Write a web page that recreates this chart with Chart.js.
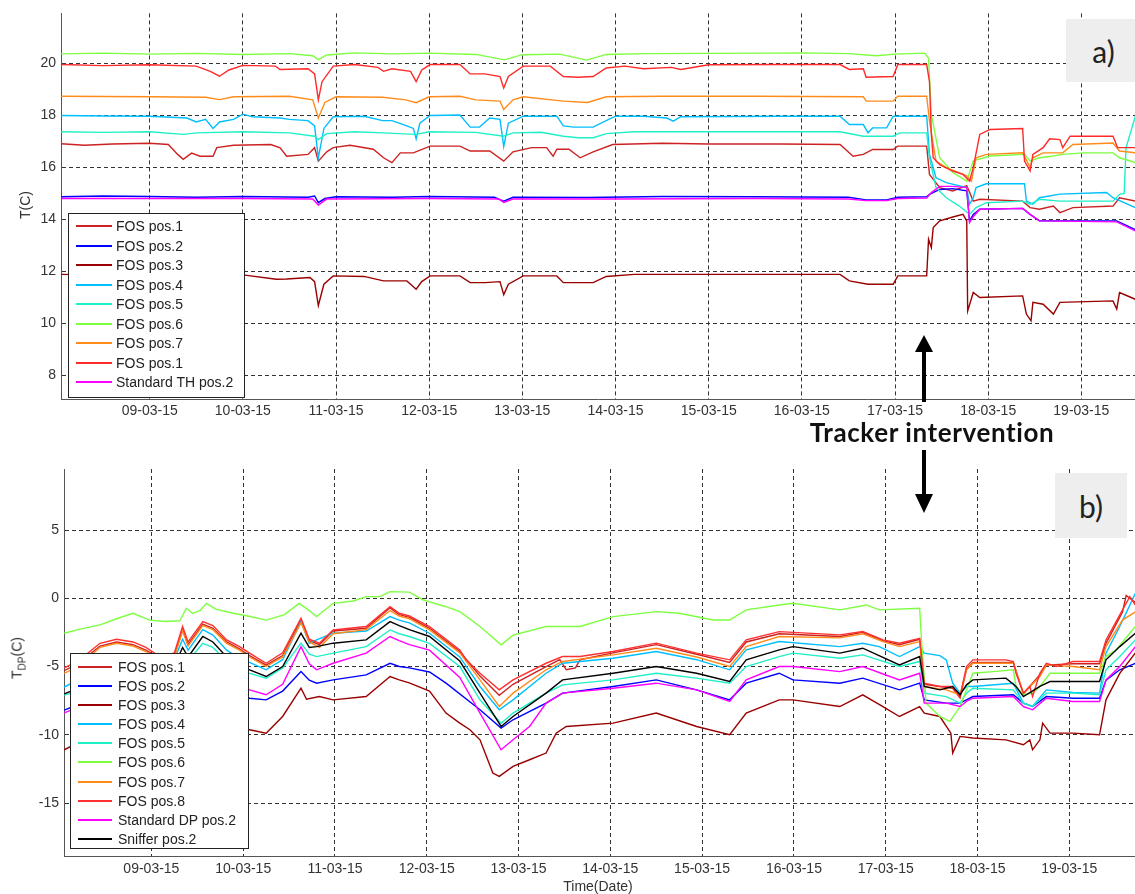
<!DOCTYPE html>
<html>
<head>
<meta charset="utf-8">
<script src="https://cdn.jsdelivr.net/npm/chart.js@4.4.0/dist/chart.umd.min.js"></script>
<style>
  body { margin: 0; width: 1135px; height: 894px; overflow: hidden; background: #fff; position: relative;
         font-family: 'Liberation Sans', Arial, sans-serif; }
  canvas { position: absolute; left: 0; }
  #graficoA { top: 0; }
  #graficoB { top: 440px; }
  .leyenda { position: absolute; background: #fff; border: 1px solid #222; box-sizing: border-box; }
  .titulo { position: absolute; font-size: 14px; color: #333; white-space: nowrap; }
  .rot { transform: translate(-50%, -50%) rotate(-90deg); }
  .panel { position: absolute; background: #eeeeee; font-family: Lato, 'Open Sans', sans-serif; font-size: 30px;
           color: #222; display: flex; align-items: center; justify-content: center; }
  #tracker { position: absolute; left: 932px; top: 432px; transform: translate(-50%, -50%); letter-spacing: 0.6px;
             font-family: Lato, 'Open Sans', sans-serif; font-weight: bold; font-size: 26px; color: #111; white-space: nowrap; }
</style>
</head>
<body>
<canvas id="graficoA" width="1135" height="425"></canvas>
<canvas id="graficoB" width="1135" height="454"></canvas>

<div class="titulo rot" style="left:25px; top:205px;">T(C)</div>
<div class="titulo rot" style="left:18px; top:658px;">T<sub style="font-size:10px">DP</sub>(C)</div>
<div class="titulo" style="left:598px; top:886px; transform:translate(-50%,-50%);">Time(Date)</div>

<div class="panel" style="left:1066px; top:19px; width:75px; height:63px;">a)</div>
<div class="panel" style="left:1055px; top:473px; width:72px; height:65px;">b)</div>
<div id="tracker">Tracker intervention</div>

<svg style="position:absolute; left:0; top:0;" width="1135" height="894">
  <rect x="922" y="350" width="4" height="52" fill="#000"/>
  <polygon points="924,335 915,352 933,352" fill="#000"/>
  <rect x="922" y="450" width="4" height="46" fill="#000"/>
  <polygon points="924,513 915,494 933,494" fill="#000"/>
</svg>

<script>
// ejes
const dias = [9, 10, 11, 12, 13, 14, 15, 16, 17, 18, 19];
const etiquetasDias = ['09-03-15', '10-03-15', '11-03-15', '12-03-15', '13-03-15', '14-03-15',
  '15-03-15', '16-03-15', '17-03-15', '18-03-15', '19-03-15'];
const ticksA = [8, 10, 12, 14, 16, 18, 20];
const ticksB = [-15, -10, -5, 0, 5];

// ---- panel a) : temperatura ----
const nombresA = ['FOS pos.1', 'FOS pos.2', 'FOS pos.3', 'FOS pos.4', 'FOS pos.5', 'FOS pos.6', 'FOS pos.7', 'FOS pos.1', 'Standard TH pos.2'];
const coloresA = ['#cc2222', '#0000ff', '#990000', '#00bfff', '#1ff0c8', '#7dff3f', '#ff8c1a', '#ff2a2a', '#ff00ff'];

const fos1A = [[8.05,16.91],[8.3,16.85],[8.6,16.9],[9.0,16.93],[9.2,16.88],[9.3,16.5],[9.36,16.31],[9.45,16.55],[9.54,16.43],[9.68,16.43],[9.72,16.76],[9.9,16.85],[10.3,16.88],[10.4,16.75],[10.47,16.43],[10.7,16.5],[10.77,16.76],[10.81,16.24],[10.9,16.6],[10.97,16.76],[11.15,16.85],[11.4,16.7],[11.51,16.37],[11.6,16.18],[11.69,16.56],[11.83,16.56],[12.01,16.82],[12.33,16.82],[12.44,16.63],[12.65,16.63],[12.8,16.24],[12.9,16.6],[13.1,16.76],[13.26,16.76],[13.33,16.43],[13.37,16.7],[13.5,16.7],[13.62,16.37],[13.76,16.6],[13.97,16.88],[14.5,16.93],[15.0,16.9],[15.76,16.9],[16.41,16.88],[16.55,16.43],[16.66,16.5],[16.76,16.69],[16.98,16.69],[17.03,16.82],[17.34,16.82],[17.37,15.73],[17.48,15.22],[17.62,15.09],[17.77,15.3],[17.84,14.7],[17.91,14.77],[18.37,14.7],[18.45,14.45],[18.55,14.39],[18.7,14.51],[18.77,14.26],[18.91,14.45],[19.34,14.51],[19.41,14.83],[19.58,14.7]];
const fos2A = [[8.05,14.87],[8.5,14.9],[9.0,14.88],[9.5,14.85],[10.0,14.88],[10.7,14.85],[10.77,14.9],[10.81,14.64],[10.88,14.8],[11.0,14.87],[11.6,14.85],[12.0,14.88],[12.7,14.85],[12.8,14.7],[12.9,14.85],[13.7,14.84],[14.5,14.88],[15.5,14.87],[16.5,14.85],[16.69,14.75],[16.91,14.75],[17.03,14.85],[17.34,14.87],[17.37,14.96],[17.48,15.15],[17.62,15.18],[17.77,15.1],[17.8,13.94],[17.84,14.19],[17.91,14.39],[18.37,14.42],[18.45,14.19],[18.55,13.94],[19.38,13.94],[19.58,13.6]];
const fos3A = [[8.05,11.88],[8.5,11.85],[9.0,11.88],[9.5,11.85],[10.0,11.86],[10.36,11.69],[10.47,11.7],[10.72,11.76],[10.77,11.6],[10.81,10.68],[10.87,11.5],[10.97,11.82],[11.3,11.8],[11.51,11.63],[11.76,11.63],[11.86,11.31],[11.92,11.6],[12.01,11.82],[12.33,11.82],[12.44,11.56],[12.6,11.56],[12.76,11.6],[12.8,11.1],[12.85,11.5],[13.01,11.82],[13.37,11.82],[13.44,11.56],[13.76,11.56],[13.9,11.8],[14.2,11.88],[15.0,11.88],[15.76,11.88],[16.41,11.88],[16.51,11.63],[16.71,11.5],[16.98,11.5],[17.03,11.82],[17.34,11.82],[17.36,13.23],[17.39,12.91],[17.41,13.68],[17.48,13.94],[17.62,14.09],[17.73,14.19],[17.77,13.94],[17.78,10.47],[17.84,11.18],[17.91,10.99],[18.37,11.05],[18.41,10.35],[18.46,10.09],[18.48,10.8],[18.59,10.73],[18.7,10.35],[18.77,10.8],[19.34,10.86],[19.38,10.54],[19.41,11.18],[19.58,10.92]];
const fos4A = [[8.05,18.0],[8.5,17.98],[9.0,17.97],[9.4,17.9],[9.5,17.75],[9.6,17.85],[9.68,17.5],[9.75,17.75],[9.9,17.85],[10.0,18.05],[10.1,17.95],[10.4,17.9],[10.5,17.85],[10.7,17.8],[10.77,17.6],[10.81,16.37],[10.87,17.5],[10.97,17.95],[11.3,17.97],[11.5,17.8],[11.6,17.8],[11.76,17.6],[11.83,17.5],[11.86,17.1],[11.9,17.7],[12.01,18.0],[12.33,18.02],[12.44,17.55],[12.54,17.55],[12.65,17.9],[12.76,17.85],[12.8,16.8],[12.85,17.7],[13.01,17.97],[13.37,17.97],[13.44,17.6],[13.55,17.55],[13.76,17.55],[13.9,17.8],[14.0,17.97],[14.3,17.97],[14.55,17.9],[14.62,17.78],[14.7,17.95],[15.76,17.97],[16.41,17.97],[16.51,17.65],[16.66,17.65],[16.71,17.33],[16.76,17.52],[16.91,17.52],[16.98,17.97],[17.34,17.97],[17.37,16.5],[17.44,15.6],[17.55,15.41],[17.77,15.22],[17.8,14.58],[17.84,14.83],[17.87,15.22],[17.98,15.37],[18.39,15.37],[18.41,14.7],[18.48,14.58],[18.55,14.83],[18.77,14.97],[19.27,15.03],[19.34,14.83],[19.58,14.45]];
const fos5A = [[8.05,17.37],[8.5,17.35],[9.0,17.37],[9.36,17.27],[9.5,17.33],[10.0,17.37],[10.5,17.33],[10.77,17.2],[10.81,17.07],[10.9,17.3],[11.2,17.37],[11.5,17.33],[11.86,17.27],[12.0,17.37],[12.5,17.35],[12.8,17.2],[12.9,17.33],[13.2,17.35],[13.44,17.2],[13.6,17.14],[13.76,17.14],[13.9,17.3],[14.2,17.37],[15.0,17.37],[15.76,17.37],[16.41,17.37],[16.66,17.2],[16.98,17.2],[17.05,17.33],[17.34,17.33],[17.37,16.37],[17.44,15.22],[17.55,14.83],[17.69,14.51],[17.8,14.19],[17.87,14.45],[17.98,14.64],[18.37,14.7],[18.45,14.58],[18.55,14.77],[18.77,14.7],[19.34,14.7],[19.41,14.96],[19.46,15.0],[19.48,16.76],[19.58,17.97]];
const fos6A = [[8.05,20.37],[8.5,20.4],[9.0,20.36],[9.5,20.39],[10.0,20.35],[10.5,20.38],[10.75,20.3],[10.81,20.15],[10.9,20.33],[11.2,20.41],[11.6,20.37],[12.0,20.4],[12.5,20.35],[12.81,20.14],[13.0,20.34],[13.4,20.36],[13.69,20.13],[13.9,20.35],[14.3,20.38],[15.0,20.39],[15.7,20.4],[16.0,20.41],[16.5,20.38],[16.8,20.3],[17.0,20.36],[17.32,20.4],[17.36,20.2],[17.39,18.04],[17.48,16.37],[17.62,15.8],[17.77,15.47],[17.84,16.25],[18.02,16.44],[18.39,16.5],[18.45,16.25],[18.55,16.37],[18.7,16.44],[18.8,16.5],[19.02,16.56],[19.34,16.56],[19.41,16.37],[19.58,16.18]];
const fos7A = [[8.05,18.74],[9.0,18.72],[9.6,18.7],[9.75,18.61],[9.9,18.72],[10.5,18.74],[10.75,18.6],[10.81,17.9],[10.88,18.5],[11.0,18.72],[11.5,18.7],[11.75,18.6],[11.86,18.49],[12.0,18.72],[12.33,18.74],[12.5,18.6],[12.76,18.55],[12.8,18.23],[12.9,18.6],[13.01,18.72],[13.44,18.55],[13.7,18.5],[13.9,18.72],[14.5,18.74],[15.5,18.74],[16.66,18.72],[16.69,18.55],[16.98,18.55],[17.03,18.74],[17.34,18.74],[17.37,17.78],[17.44,16.24],[17.55,15.99],[17.77,15.67],[17.82,15.47],[17.87,16.37],[17.98,16.5],[18.37,16.56],[18.45,16.0],[18.48,16.37],[18.59,16.56],[18.8,16.56],[18.91,16.88],[19.34,16.94],[19.41,16.63],[19.58,16.56]];
const fos8A = [[8.05,19.96],[8.5,19.92],[9.0,19.95],[9.5,19.9],[9.65,19.7],[9.75,19.51],[9.85,19.75],[10.0,19.93],[10.35,19.9],[10.4,19.77],[10.7,19.8],[10.77,19.6],[10.81,18.6],[10.85,19.3],[10.97,19.9],[11.2,19.96],[11.45,19.85],[11.51,19.7],[11.6,19.8],[11.8,19.7],[11.86,19.3],[11.92,19.75],[12.01,19.96],[12.33,19.96],[12.44,19.6],[12.6,19.6],[12.76,19.5],[12.8,19.06],[12.85,19.5],[13.01,19.9],[13.3,19.9],[13.44,19.5],[13.6,19.47],[13.76,19.5],[13.9,19.83],[14.1,19.9],[14.3,19.8],[14.6,19.85],[14.7,19.77],[15.0,19.95],[15.76,19.96],[16.41,19.96],[16.51,19.77],[16.66,19.8],[16.69,19.47],[16.98,19.5],[17.03,19.96],[17.34,19.96],[17.37,19.3],[17.39,17.27],[17.41,16.37],[17.48,16.1],[17.62,15.86],[17.73,15.73],[17.8,15.47],[17.84,16.0],[17.91,17.27],[18.02,17.46],[18.37,17.5],[18.39,16.24],[18.45,15.86],[18.48,16.5],[18.59,16.76],[18.66,17.1],[18.77,17.07],[18.8,16.76],[18.88,17.2],[19.34,17.2],[19.39,16.76],[19.58,16.76]];
const estandarA = [[8.05,14.8],[9.0,14.8],[10.0,14.8],[10.75,14.78],[10.81,14.55],[10.9,14.78],[12.0,14.8],[12.75,14.78],[12.8,14.65],[12.9,14.78],[14.0,14.78],[15.5,14.8],[16.5,14.78],[16.69,14.72],[16.91,14.72],[17.03,14.8],[17.34,14.82],[17.39,15.03],[17.48,15.27],[17.62,15.27],[17.77,15.22],[17.8,13.87],[17.84,14.1],[17.91,14.39],[18.37,14.42],[18.45,14.19],[18.55,13.94],[19.38,13.9],[19.58,13.55]];

// ---- panel b) : punto de rocio ----
const nombresB = ['FOS pos.1', 'FOS pos.2', 'FOS pos.3', 'FOS pos.4', 'FOS pos.5', 'FOS pos.6', 'FOS pos.7', 'FOS pos.8', 'Standard DP pos.2', 'Sniffer pos.2'];
const coloresB = ['#cc2222', '#0000ff', '#990000', '#00bfff', '#1ff0c8', '#7dff3f', '#ff8c1a', '#ff3030', '#ff00ff', '#000000'];

const fos1B = [[8.05,-5.3],[8.2,-4.8],[8.44,-3.5],[8.62,-3.2],[8.8,-3.4],[8.94,-3.8],[9.1,-4.4],[9.25,-4.2],[9.34,-2.3],[9.4,-3.4],[9.56,-1.9],[9.67,-2.2],[9.82,-3.2],[9.96,-3.7],[10.07,-4.2],[10.25,-4.9],[10.43,-4.2],[10.63,-1.6],[10.72,-3.1],[10.83,-3.4],[10.98,-2.4],[11.34,-2.2],[11.6,-0.7],[11.7,-1.2],[11.81,-1.4],[12.03,-2.2],[12.36,-3.9],[12.58,-5.7],[12.79,-7.1],[12.94,-6.3],[13.3,-5.0],[13.45,-4.5],[13.52,-5.24],[13.62,-5.1],[13.67,-4.5],[14.03,-4.0],[14.5,-3.4],[14.94,-4.1],[15.3,-4.7],[15.48,-3.2],[15.84,-2.6],[16.5,-2.8],[16.75,-2.5],[16.97,-3.1],[17.15,-3.4],[17.37,-3.0],[17.42,-6.3],[17.73,-6.6],[17.81,-7.3],[17.88,-5.2],[17.95,-4.7],[18.39,-4.7],[18.5,-7.0],[18.68,-5.6],[18.75,-4.9],[19.04,-4.8],[19.33,-4.8],[19.4,-3.3],[19.58,-1.0],[19.62,0.2],[19.72,-0.3]];
const fos2B = [[8.05,-8.2],[8.2,-7.8],[8.44,-6.8],[8.62,-6.5],[8.8,-6.7],[9.0,-7.1],[9.2,-7.3],[9.34,-6.0],[9.4,-6.4],[9.56,-5.4],[9.67,-5.7],[9.82,-6.6],[9.96,-7.1],[10.07,-7.32],[10.25,-7.44],[10.43,-6.8],[10.63,-5.37],[10.72,-6.0],[10.8,-6.22],[10.98,-5.98],[11.34,-5.61],[11.6,-4.76],[11.7,-5.0],[11.81,-5.1],[12.03,-5.4],[12.21,-6.22],[12.58,-8.17],[12.81,-9.51],[12.94,-8.9],[13.3,-7.68],[13.48,-6.95],[14.03,-6.46],[14.5,-5.98],[14.94,-6.71],[15.3,-7.44],[15.48,-6.22],[15.84,-5.49],[15.99,-5.98],[16.5,-6.22],[16.75,-5.85],[17.15,-6.71],[17.37,-6.22],[17.42,-7.44],[17.66,-7.68],[17.81,-7.68],[17.88,-7.44],[17.95,-7.2],[18.39,-7.07],[18.5,-7.68],[18.6,-7.93],[18.75,-7.2],[19.04,-7.32],[19.33,-7.32],[19.4,-6.0],[19.55,-5.24],[19.72,-4.76]];
const fos3B = [[8.05,-11.1],[8.2,-10.6],[8.44,-9.2],[8.62,-8.9],[8.8,-9.1],[9.0,-9.5],[9.2,-9.8],[9.34,-8.5],[9.4,-8.9],[9.56,-7.8],[9.67,-8.1],[9.82,-8.9],[9.96,-9.5],[10.07,-9.63],[10.25,-9.88],[10.43,-8.66],[10.63,-6.59],[10.69,-7.4],[10.83,-7.2],[10.98,-7.44],[11.34,-7.2],[11.6,-5.73],[11.7,-5.98],[11.81,-6.2],[12.03,-6.8],[12.21,-8.41],[12.36,-9.15],[12.47,-9.63],[12.58,-10.37],[12.72,-12.8],[12.79,-13.05],[12.94,-12.32],[13.12,-11.83],[13.3,-11.34],[13.41,-9.88],[13.52,-9.39],[14.03,-9.15],[14.5,-8.41],[14.94,-9.39],[15.3,-10.0],[15.48,-8.41],[15.84,-7.44],[15.99,-7.44],[16.5,-7.93],[16.75,-7.07],[16.97,-7.93],[17.15,-8.66],[17.37,-7.93],[17.42,-8.41],[17.59,-8.66],[17.71,-9.88],[17.73,-11.34],[17.81,-10.12],[17.95,-10.24],[18.31,-10.37],[18.5,-10.73],[18.57,-10.37],[18.6,-11.1],[18.68,-10.37],[18.71,-9.15],[18.79,-9.88],[19.04,-9.88],[19.33,-10.0],[19.4,-7.44],[19.55,-5.5],[19.72,-4.0]];
const fos4B = [[8.05,-6.5],[8.2,-6.0],[8.44,-4.5],[8.62,-4.2],[8.8,-4.4],[9.0,-5.0],[9.2,-5.3],[9.34,-3.0],[9.4,-3.8],[9.56,-2.3],[9.67,-2.7],[9.82,-3.8],[9.96,-4.4],[10.07,-4.7],[10.25,-5.24],[10.43,-4.5],[10.63,-1.71],[10.72,-3.3],[10.8,-3.05],[10.98,-2.56],[11.34,-2.4],[11.6,-1.34],[11.7,-1.6],[11.81,-1.8],[12.03,-2.56],[12.36,-4.3],[12.58,-6.46],[12.79,-8.17],[12.94,-7.44],[13.3,-5.49],[13.48,-4.76],[14.03,-4.39],[14.5,-3.9],[14.94,-4.5],[15.3,-5.24],[15.48,-3.78],[15.84,-3.17],[16.5,-3.54],[16.75,-3.3],[16.93,-3.54],[17.15,-4.27],[17.37,-3.54],[17.42,-4.02],[17.59,-4.2],[17.66,-4.51],[17.73,-6.22],[17.81,-6.95],[17.88,-6.46],[17.95,-6.46],[18.39,-6.22],[18.5,-7.68],[18.6,-7.93],[18.75,-6.71],[19.04,-6.9],[19.33,-6.95],[19.4,-4.02],[19.55,-2.07],[19.72,0.37]];
const fos5B = [[8.05,-7.1],[8.2,-6.8],[8.44,-5.4],[8.62,-5.1],[8.8,-5.3],[9.0,-5.8],[9.2,-6.0],[9.34,-4.1],[9.4,-4.6],[9.56,-3.3],[9.67,-3.6],[9.82,-4.6],[9.96,-5.2],[10.07,-5.5],[10.25,-5.85],[10.43,-5.1],[10.63,-3.29],[10.72,-4.1],[10.8,-4.27],[10.98,-4.02],[11.34,-3.54],[11.6,-2.32],[11.7,-2.6],[11.81,-2.8],[12.03,-3.3],[12.36,-5.0],[12.58,-7.44],[12.81,-9.15],[12.94,-8.41],[13.3,-6.95],[13.48,-6.34],[14.03,-5.98],[14.5,-5.49],[14.94,-5.85],[15.3,-6.22],[15.48,-5.0],[15.84,-4.27],[15.99,-4.02],[16.5,-4.39],[16.75,-4.15],[17.15,-5.0],[17.37,-4.63],[17.42,-6.95],[17.66,-7.2],[17.81,-7.68],[17.88,-6.95],[17.95,-6.59],[18.39,-6.71],[18.5,-7.68],[18.6,-7.93],[18.75,-6.95],[19.04,-6.95],[19.33,-7.07],[19.4,-5.24],[19.55,-4.27],[19.72,-3.05]];
const fos6B = [[8.05,-2.56],[8.2,-2.3],[8.44,-1.95],[8.62,-1.5],[8.8,-1.1],[8.98,-1.6],[9.15,-1.7],[9.31,-1.65],[9.38,-0.73],[9.45,-1.1],[9.53,-0.9],[9.6,-0.37],[9.7,-0.8],[9.89,-1.1],[10.05,-1.3],[10.25,-1.6],[10.45,-1.2],[10.61,-0.37],[10.72,-0.9],[10.8,-1.34],[10.98,-0.37],[11.2,-0.2],[11.34,0.12],[11.49,0.12],[11.6,0.49],[11.81,0.45],[11.96,-0.12],[12.2,-0.6],[12.36,-0.98],[12.58,-2.07],[12.81,-3.41],[12.94,-2.7],[13.3,-2.07],[13.67,-2.07],[14.03,-1.34],[14.5,-0.98],[14.75,-1.1],[15.12,-1.59],[15.3,-1.59],[15.48,-0.85],[15.84,-0.49],[15.99,-0.37],[16.5,-0.85],[16.79,-0.49],[16.93,-0.85],[17.37,-0.73],[17.39,-3.05],[17.44,-7.68],[17.59,-8.66],[17.7,-9.02],[17.81,-7.93],[17.95,-5.49],[18.17,-5.37],[18.39,-5.24],[18.42,-6.46],[18.5,-7.07],[18.6,-6.95],[18.68,-6.46],[18.79,-5.49],[19.04,-5.49],[19.33,-5.49],[19.4,-4.27],[19.51,-3.78],[19.72,-2.07]];
const fos7B = [[8.05,-5.5],[8.2,-5.0],[8.44,-3.6],[8.62,-3.3],[8.8,-3.5],[8.94,-3.9],[9.1,-4.5],[9.25,-4.3],[9.34,-2.4],[9.4,-3.5],[9.56,-2.0],[9.67,-2.3],[9.82,-3.3],[9.96,-3.8],[10.07,-4.3],[10.25,-5.0],[10.43,-4.3],[10.63,-1.8],[10.72,-3.2],[10.83,-3.6],[10.98,-2.6],[11.34,-2.3],[11.6,-0.9],[11.7,-1.3],[11.81,-1.5],[12.03,-2.32],[12.36,-4.0],[12.58,-5.98],[12.79,-7.93],[12.94,-6.95],[13.3,-5.24],[13.48,-4.63],[14.03,-4.15],[14.5,-3.66],[14.94,-4.3],[15.3,-5.0],[15.48,-3.54],[15.84,-2.8],[16.5,-2.9],[16.75,-2.6],[16.97,-3.17],[17.15,-3.54],[17.37,-3.17],[17.42,-6.46],[17.66,-6.71],[17.81,-7.07],[17.88,-5.24],[17.95,-4.76],[18.39,-4.76],[18.5,-6.95],[18.68,-5.73],[18.75,-4.88],[19.04,-5.0],[19.33,-5.24],[19.4,-3.54],[19.58,-1.6],[19.72,-1.0]];
const fos8B = [[8.05,-5.1],[8.2,-4.6],[8.44,-3.3],[8.62,-3.0],[8.8,-3.2],[8.94,-3.6],[9.1,-4.3],[9.25,-4.0],[9.34,-2.07],[9.4,-3.2],[9.56,-1.71],[9.67,-2.0],[9.82,-3.05],[9.96,-3.54],[10.07,-4.02],[10.25,-4.76],[10.43,-4.0],[10.63,-1.46],[10.72,-3.0],[10.83,-3.29],[10.98,-2.32],[11.34,-2.07],[11.6,-0.61],[11.7,-1.1],[11.81,-1.3],[12.03,-2.07],[12.36,-3.78],[12.43,-4.51],[12.58,-5.49],[12.79,-6.71],[12.94,-5.98],[13.3,-4.76],[13.48,-4.27],[13.67,-4.27],[14.03,-3.9],[14.5,-3.29],[14.94,-4.02],[15.3,-4.51],[15.48,-3.05],[15.84,-2.44],[16.5,-2.68],[16.75,-2.44],[16.97,-3.05],[17.15,-3.29],[17.37,-2.93],[17.42,-6.22],[17.59,-6.46],[17.73,-6.46],[17.81,-7.2],[17.88,-5.0],[17.95,-4.51],[18.31,-4.51],[18.39,-4.63],[18.42,-5.49],[18.5,-6.95],[18.57,-6.46],[18.6,-7.2],[18.68,-5.49],[18.75,-4.76],[18.86,-5.0],[19.04,-4.63],[19.33,-4.63],[19.4,-3.05],[19.58,-0.85],[19.66,0.12],[19.72,-0.5]];
const estandarB = [[8.05,-8.4],[8.2,-8.0],[8.44,-6.5],[8.62,-6.2],[8.8,-6.4],[9.0,-6.9],[9.2,-7.1],[9.34,-5.2],[9.4,-5.7],[9.56,-4.3],[9.67,-4.6],[9.82,-5.6],[9.96,-6.3],[10.07,-6.71],[10.25,-7.07],[10.43,-6.3],[10.63,-3.54],[10.72,-4.8],[10.8,-5.24],[10.98,-4.76],[11.34,-4.02],[11.6,-2.8],[11.7,-3.1],[11.81,-3.4],[12.03,-3.8],[12.36,-5.8],[12.58,-8.41],[12.81,-11.1],[12.94,-10.37],[13.12,-9.39],[13.3,-7.68],[13.48,-6.95],[14.03,-6.59],[14.5,-6.22],[14.94,-6.71],[15.3,-7.56],[15.48,-5.98],[15.84,-5.0],[15.99,-5.0],[16.5,-5.37],[16.75,-5.0],[17.15,-5.98],[17.37,-5.49],[17.42,-7.68],[17.66,-7.68],[17.81,-7.93],[17.88,-7.56],[17.95,-7.32],[18.39,-7.2],[18.5,-7.93],[18.6,-8.17],[18.75,-7.32],[19.04,-7.56],[19.33,-7.56],[19.4,-5.98],[19.55,-5.0],[19.72,-3.54]];
const snifferB = [[8.05,-7.0],[8.2,-6.6],[8.44,-5.0],[8.62,-4.7],[8.8,-4.9],[9.0,-5.5],[9.2,-5.7],[9.34,-3.6],[9.4,-4.3],[9.56,-2.8],[9.67,-3.2],[9.82,-4.3],[9.96,-4.9],[10.07,-5.24],[10.25,-5.73],[10.43,-5.0],[10.63,-2.56],[10.72,-3.6],[10.8,-3.54],[10.98,-3.29],[11.34,-3.05],[11.6,-1.71],[11.7,-2.0],[11.81,-2.3],[12.03,-2.8],[12.36,-4.6],[12.58,-6.95],[12.81,-9.39],[12.94,-8.66],[13.3,-6.95],[13.48,-5.98],[14.03,-5.49],[14.5,-5.0],[14.94,-5.49],[15.3,-6.1],[15.48,-4.51],[15.84,-3.78],[15.99,-3.54],[16.5,-4.02],[16.75,-3.66],[17.15,-4.88],[17.37,-4.27],[17.42,-6.46],[17.59,-6.71],[17.73,-6.46],[17.81,-7.07],[17.88,-6.34],[17.95,-5.98],[18.31,-5.85],[18.42,-6.46],[18.5,-7.2],[18.68,-6.46],[18.79,-6.1],[19.04,-6.1],[19.33,-6.1],[19.4,-4.51],[19.55,-3.54],[19.72,-2.56]];

const seriesA = [fos1A, fos2A, fos3A, fos4A, fos5A, fos6A, fos7A, fos8A, estandarA];
const seriesB = [fos1B, fos2B, fos3B, fos4B, fos5B, fos6B, fos7B, fos8B, estandarB, snifferB];

function crearGrafico(id, series, nombres, colores, c) {
  const datasets = series.map((s, i) => ({
    label: nombres[i],
    data: s.map(p => ({ x: p[0], y: p[1] })),
    borderColor: colores[i],
    borderWidth: 1.4,
    pointRadius: 0,
    tension: 0,
    fill: false,
    order: -i
  }));
  const fuente = { family: "'Liberation Sans', Arial, sans-serif", size: 14 };
  const rejilla = { color: '#333', lineWidth: 1, drawTicks: false };
  const borde = { display: true, color: '#555', width: 1, dash: [4, 3] };

  return new Chart(document.getElementById(id), {
    type: 'line',
    data: { datasets },
    options: {
      responsive: false,
      animation: false,
      parsing: false,
      layout: { padding: { top: c.arriba, left: 0, right: 0, bottom: 0 } },
      plugins: { legend: { display: false }, tooltip: { enabled: false } },
      scales: {
        x: {
          type: 'linear', min: c.xmin, max: c.xmax,
          afterBuildTicks: s => { s.ticks = dias.map(v => ({ value: v })); },
          afterFit: s => { s.height = c.altoX; },
          ticks: { callback: (v, i) => etiquetasDias[i], color: '#333', font: fuente, padding: c.padX, maxRotation: 0, autoSkip: false },
          grid: rejilla, border: borde
        },
        y: {
          min: c.ymin, max: c.ymax,
          afterBuildTicks: s => { s.ticks = c.yTicks.map(v => ({ value: v })); },
          afterFit: s => { s.width = c.anchoY; },
          ticks: { color: '#333', font: fuente, padding: 5 },
          grid: rejilla, border: borde
        }
      }
    }
  });
}

function crearLeyenda(nombres, colores, c) {
  const caja = document.createElement('div');
  caja.className = 'leyenda';
  caja.style.left = c.x + 'px';
  caja.style.top = c.y + 'px';
  caja.style.width = c.w + 'px';
  caja.style.height = c.h + 'px';
  nombres.forEach((n, i) => {
    const cy = Math.round(c.y0 + i * c.paso - c.y - 1);
    const linea = document.createElement('div');
    linea.style.cssText = `position:absolute;left:${c.lx}px;width:${c.lw}px;top:${cy - 1}px;height:2px;background:${colores[i]}`;
    const txt = document.createElement('div');
    txt.textContent = n;
    txt.style.cssText = `position:absolute;left:${c.tx}px;top:${cy - 9}px;line-height:18px;font-size:14px;color:#222;white-space:nowrap`;
    caja.append(linea, txt);
  });
  document.body.appendChild(caja);
}

crearGrafico('graficoA', seriesA, nombresA, coloresA,
  { xmin: 8.048, xmax: 19.576, ymin: 7.08, ymax: 21.93, yTicks: ticksA, arriba: 12, anchoY: 61, altoX: 26, padX: 4 });
crearGrafico('graficoB', seriesB, nombresB, coloresB,
  { xmin: 8.048, xmax: 19.716, ymin: -18.88, ymax: 9.47, yTicks: ticksB, arriba: 29, anchoY: 64, altoX: 38, padX: 5 });

crearLeyenda(nombresA, coloresA, { x: 68, y: 213, w: 177, h: 185, y0: 226, paso: 19.5, lx: 7, lw: 36, tx: 47 });
crearLeyenda(nombresB, coloresB, { x: 70, y: 653, w: 179, h: 196, y0: 666.7, paso: 19.15, lx: 7, lw: 34, tx: 47 });
</script>
</body>
</html>
